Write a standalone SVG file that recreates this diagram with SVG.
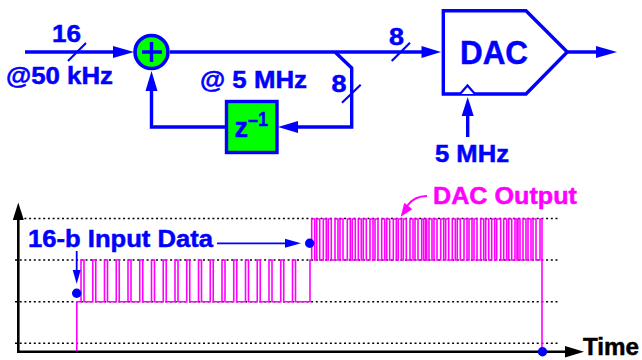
<svg xmlns="http://www.w3.org/2000/svg" width="642" height="360" viewBox="0 0 642 360">
<style>
text{font-family:"Liberation Sans",Arial,sans-serif;font-weight:bold;fill:#0000ff;font-size:24px;stroke:#0000ff;stroke-width:.5}
.w{fill:none;stroke:#0000ff;stroke-width:3.4}
.t{fill:none;stroke:#0000ff;stroke-width:2.2}
.a{fill:#0000ff;stroke:none}
.d{fill:none;stroke:#000;stroke-width:1.4;stroke-dasharray:2 2.7}
.m{fill:none;stroke:#ff00ff;stroke-width:1.6}
</style>
<g id="connectors">
<path class="w" d="M25 52H120"/>
<polygon class="a" points="134,52 113,46 113,58"/>
<path class="t" d="M68 61L86 43"/>
<path class="w" d="M170 52H425"/>
<polygon class="a" points="441,52 421.5,46 421.5,58"/>
<path class="t" d="M391.7 61L410 42.7"/>
<path class="w" d="M335 52L351.7 68V127H290"/>
<polygon class="a" points="278,127 298,121 298,133"/>
<path class="t" d="M342 102.7L360.7 84.7"/>
<path class="w" d="M225 127H151.5V85"/>
<polygon class="a" points="151.5,71 145.5,91 157.5,91"/>
<path class="w" d="M567 52H600"/>
<polygon class="a" points="617,52 596,46 596,58"/>
<path class="w" d="M467.7 137V112"/>
<polygon class="a" points="467.7,97 461.7,116 473.7,116"/>
</g>
<g id="sum">
<circle cx="151.5" cy="52" r="16.5" fill="#00ff00" stroke="#0000ff" stroke-width="3.6"/>
<path class="w" d="M142 52H162M151.5 42V62"/>
</g>
<g id="delay">
<rect x="226.5" y="101.5" width="50.5" height="51" fill="#00ff00" stroke="#0000ff" stroke-width="3.4"/>
<text x="234.5" y="137" style="font-size:27px">z</text>
<text x="248" y="126" textLength="20" lengthAdjust="spacingAndGlyphs" style="font-size:21px">–1</text>
</g>
<g id="dac">
<path d="M443.3 10.7H526L567.3 52L526 94H443.3Z" fill="#fff" stroke="#0000ff" stroke-width="3.4"/>
<path d="M460 94L467.5 85.5L475 94" fill="#fff" stroke="#0000ff" stroke-width="2.2"/>
<text x="460" y="63.5" textLength="68" lengthAdjust="spacingAndGlyphs" style="font-size:33px">DAC</text>
</g>
<g id="labels">
<text x="52" y="42" textLength="29" lengthAdjust="spacingAndGlyphs">16</text>
<text x="6" y="84" textLength="107" lengthAdjust="spacingAndGlyphs">@50 kHz</text>
<text x="200" y="88" textLength="107" lengthAdjust="spacingAndGlyphs">@ 5 MHz</text>
<text x="389" y="45" textLength="15" lengthAdjust="spacingAndGlyphs">8</text>
<text x="331.5" y="92" textLength="15" lengthAdjust="spacingAndGlyphs">8</text>
<text x="435" y="162" textLength="74" lengthAdjust="spacingAndGlyphs">5 MHz</text>
</g>
<g id="axes">
<path class="d" d="M15 218.5H560M15 260H560M15 301.7H560M15 343.3H560"/>
<path d="M18.3 218V351.7H568" fill="none" stroke="#000" stroke-width="2.6"/>
<polygon points="18.3,202.5 12.8,220 23.8,220" fill="#000"/>
<polygon points="584,351.7 565,346 565,357.4" fill="#000"/>
<text x="583" y="354.5" textLength="56" lengthAdjust="spacingAndGlyphs" style="fill:#000;stroke:#000;font-size:23px">Time</text>
</g>
<g id="waveform">
<path class="m" d="M76.8 351V301.7H81v-41.7h3v41.7h8.75v-41.7h3v41.7h8.75v-41.7h3v41.7h8.75v-41.7h3v41.7h8.75v-41.7h3v41.7h8.75v-41.7h3v41.7h8.75v-41.7h3v41.7h8.75v-41.7h3v41.7h8.75v-41.7h3v41.7h8.75v-41.7h3v41.7h8.75v-41.7h3v41.7h8.75v-41.7h3v41.7h8.75v-41.7h3v41.7h8.75v-41.7h3v41.7h8.75v-41.7h3v41.7h8.75v-41.7h3v41.7h8.75v-41.7h3v41.7h8.75v-41.7h3v41.7h8.75v-41.7h3v41.7H310V260H311.7"/>
<path class="m" d="M311.7 260V219h3V260h2V219h3V260H323.3V219h3V260h2V219h3V260H335V219h3V260h2V219h3V260H347.3V219h3V260h2V219h3V260H358.3V219h3V260h2V219h3V260H370V219h3V260h2V219h3V260H381.7V219h3V260h2V219h3V260H393.3V219h3V260h2V219h3V260h2V219h3V260H410V219h3V260h2V219h3V260H421.7V219h2V260h2V219h1V260H429V219h3V260h2V219h3V260H440.7V219h3V260h2V219h3V260H452.3V219h3V260h2V219h3V260H464V219h3V260h2V219h3V260h2V219h3V260H480.7V219h3V260h2V219h3V260H491.7V219h3V260h2V219h4V260H503.7V219h3V260h2V219h3V260H515V219h2V260h1V219h2V260H523V219h3V260h2V219h3V260h2V219h3V260H540V219h2V351"/>
</g>
<g id="annotations">
<circle class="a" cx="76.7" cy="293.3" r="4.7"/>
<circle class="a" cx="309.7" cy="243.3" r="4.7"/>
<circle class="a" cx="542.5" cy="351.7" r="4.7"/>
<text x="28" y="247" textLength="185" lengthAdjust="spacingAndGlyphs">16-b Input Data</text>
<path d="M217 243.3H290" fill="none" stroke="#0000ff" stroke-width="1.8"/>
<polygon class="a" points="301,243.3 285,238.8 285,247.8"/>
<path d="M76.7 251V272" fill="none" stroke="#0000ff" stroke-width="1.8"/>
<polygon class="a" points="76.7,284 72.7,270 80.7,270"/>
<text x="433" y="204" textLength="144" lengthAdjust="spacingAndGlyphs" style="fill:#ff00ff;stroke:#ff00ff">DAC Output</text>
<path d="M427 196C418 196 412 199 407 206" fill="none" stroke="#ff00ff" stroke-width="1.8"/>
<polygon points="400.7,216.7 404.3,202.7 412.3,209.3" fill="#ff00ff"/>
</g>
</svg>
